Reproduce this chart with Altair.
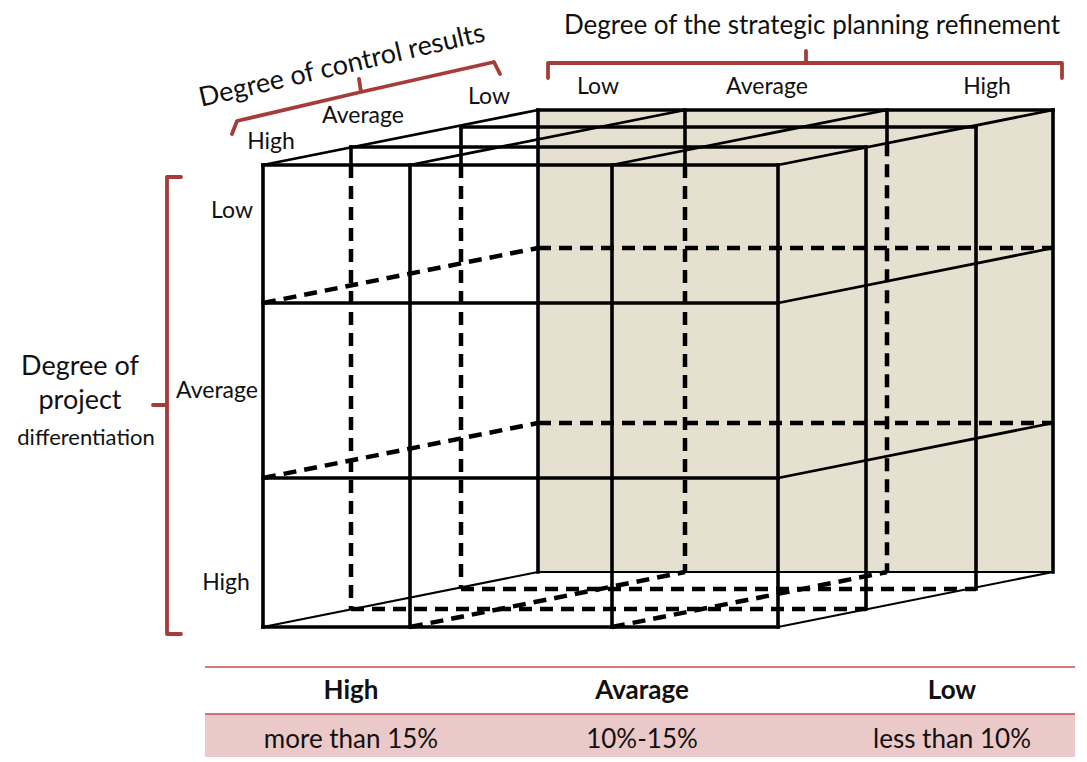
import altair as alt
import pandas as pd

# ---------------- data (pixel units of the original slide) ----------------
# front-face boundaries of the 3 planning columns and the 3 differentiation rows
col_edges = [263, 410, 612, 778]
row_edges = [165, 303, 478, 627]
# oblique offsets of the control-results slices (0 = front "High", 3 = back "Low")
depth_dx = [0, 88, 198, 275]
depth_dy = [0, -18, -38, -55]

planning_labels = ["Low", "Average", "High"]
planning_label_x = [598, 767, 987]
control_labels = ["High", "Average", "Low"]
control_label_xy = [(271, 142), (363, 116), (489, 97)]
diff_labels = ["Low", "Average", "High"]
diff_label_xy = [(232, 211), (217, 391), (226, 583)]

table_header = ["High", "Avarage", "Low"]
table_values = ["more than 15%", "10%-15%", "less than 10%"]
table_x = [351, 642, 952]

bracket_control = [(232, 134), (237, 121), (361, 92), (359, 79), (361, 92), (494, 62), (500, 74)]
bracket_planning = [(548, 78), (548, 63), (806, 63), (806, 51), (806, 63), (1062, 63), (1062, 78)]
bracket_diff = [(181, 177), (167, 177), (167, 405), (153, 405), (167, 405), (167, 634), (181, 634)]

# ---------------- geometry helpers ----------------
def P(i, j, k):
    return (col_edges[i] + depth_dx[k], row_edges[j] + depth_dy[k])

segs = []

def add(a, b, style):
    segs.append(dict(x=a[0], y=a[1], x2=b[0], y2=b[1], style=style))

def silhouette_y(x):
    # top outline of the visible front + right faces
    fx, fy = P(3, 0, 0)
    bx, by = P(3, 0, 3)
    if x <= fx:
        return fy
    return fy + (x - fx) * (by - fy) / (bx - fx)

def add_hidden_vertical(top, bottom):
    sy = silhouette_y(top[0])
    if sy > top[1]:
        add(top, (top[0], sy), "thick")
        add((top[0], sy), bottom, "dash")
    else:
        add(top, bottom, "dash")

# front face grid
for j in range(4):
    add(P(0, j, 0), P(3, j, 0), "thick")
for i in range(4):
    add(P(i, 0, 0), P(i, 3, 0), "thick")
# top face
for i in range(4):
    add(P(i, 0, 0), P(i, 0, 3), "mid")
for k in range(1, 4):
    add(P(0, 0, k), P(3, 0, k), "thick")
# right face
for j in (1, 2):
    add(P(3, j, 0), P(3, j, 3), "mid")
add(P(3, 3, 0), P(3, 3, 3), "thin")
for k in range(1, 4):
    add(P(3, 0, k), P(3, 3, k), "thick")
# back outline and left/bottom outer edges
add(P(0, 0, 3), P(0, 3, 3), "thick")
add(P(0, 3, 3), P(3, 3, 3), "thin")
add(P(0, 3, 0), P(0, 3, 3), "thin")
# hidden lines
for j in (1, 2):
    add(P(0, j, 3), P(3, j, 3), "dash")
    add(P(0, j, 0), P(0, j, 3), "dash")
for i in (1, 2):
    add_hidden_vertical(P(i, 0, 3), P(i, 3, 3))
    add(P(i, 3, 0), P(i, 3, 3), "dash")
for k in (1, 2):
    add_hidden_vertical(P(0, 0, k), P(0, 3, k))
    add(P(0, 3, k), P(3, 3, k), "dash")

seg_df = pd.DataFrame(segs)

# ---------------- scales ----------------
W, H = 1071, 740
xs = alt.Scale(domain=[8, 8 + W], nice=False, zero=False)
ys = alt.Scale(domain=[8, 8 + H], nice=False, zero=False, reverse=True)
X = lambda f: alt.X(f, type="quantitative", scale=xs, axis=None)
Y = lambda f: alt.Y(f, type="quantitative", scale=ys, axis=None)

# back face shading
bx0, by0 = P(0, 0, 3)
bx1, by1 = P(3, 3, 3)
back_df = pd.DataFrame([dict(x=bx0, y=by0, x2=bx1, y2=by1)])
back = alt.Chart(back_df).mark_rect(color="#E5E0CF").encode(
    x=X("x"), y=Y("y"), x2="x2", y2="y2")

def seg_layer(style, **kw):
    d = seg_df[seg_df["style"] == style]
    return alt.Chart(d).mark_rule(color="#000000", **kw).encode(
        x=X("x"), y=Y("y"), x2="x2", y2="y2")

lines = [
    seg_layer("thick", strokeWidth=3.6, strokeCap="square"),
    seg_layer("mid", strokeWidth=2.8),
    seg_layer("thin", strokeWidth=2.2),
    seg_layer("dash", strokeWidth=4.5, strokeDash=[13, 8]),
]

# brackets
br_rows = []
for name, pts in (("c", bracket_control), ("p", bracket_planning), ("d", bracket_diff)):
    for n, (px, py) in enumerate(pts):
        br_rows.append(dict(b=name, o=n, x=px, y=py))
br_df = pd.DataFrame(br_rows)
brackets = alt.Chart(br_df).mark_line(
    color="#A63C3A", strokeWidth=3.8, strokeJoin="round", strokeCap="round"
).encode(x=X("x"), y=Y("y"), detail="b:N", order="o:Q")

# table
table_line_df = pd.DataFrame([dict(x=205, x2=1075, y=667), dict(x=205, x2=1075, y=714)])
table_lines = alt.Chart(table_line_df).mark_rule(color="#C0504D", strokeWidth=1.4).encode(
    x=X("x"), x2="x2", y=Y("y"))
band_df = pd.DataFrame([dict(x=205, x2=1075, y=714, y2=757)])
band = alt.Chart(band_df).mark_rect(color="#EBC9C9").encode(
    x=X("x"), x2="x2", y=Y("y"), y2="y2")

# texts
txt = []
txt.append(dict(x=812, y=26, t="Degree of the strategic planning refinement", s=26, a=0))
txt.append(dict(x=342, y=66, t="Degree of control results", s=27, a=347))
txt.append(dict(x=80, y=367, t="Degree of", s=27, a=0))
txt.append(dict(x=80, y=401, t="project", s=27, a=0))
txt.append(dict(x=86, y=438, t="differentiation", s=22, a=0))
for lab, lx in zip(planning_labels, planning_label_x):
    txt.append(dict(x=lx, y=87, t=lab, s=23, a=0))
for lab, (lx, ly) in zip(control_labels, control_label_xy):
    txt.append(dict(x=lx, y=ly, t=lab, s=23, a=0))
for lab, (lx, ly) in zip(diff_labels, diff_label_xy):
    txt.append(dict(x=lx, y=ly, t=lab, s=23, a=0))
for lab, lx in zip(table_values, table_x):
    txt.append(dict(x=lx, y=740, t=lab, s=26, a=0))
txt_df = pd.DataFrame(txt)
texts = alt.Chart(txt_df).mark_text(
    font="Lato", color="#111111", align="center", baseline="middle"
).encode(x=X("x"), y=Y("y"), text="t:N",
         size=alt.Size("s:Q", scale=None), angle=alt.Angle("a:Q", scale=None))

head_df = pd.DataFrame([dict(x=lx, y=691, t=lab) for lab, lx in zip(table_header, table_x)])
heads = alt.Chart(head_df).mark_text(
    font="Lato", fontWeight="bold", fontSize=26, color="#111111", align="center", baseline="middle"
).encode(x=X("x"), y=Y("y"), text="t:N")

chart = alt.layer(
    back, band, *lines, brackets, table_lines, texts, heads
).properties(width=W, height=H, padding=0).configure_view(stroke=None)

chart.save("out.html", embed_options={"renderer": "svg", "actions": False})
